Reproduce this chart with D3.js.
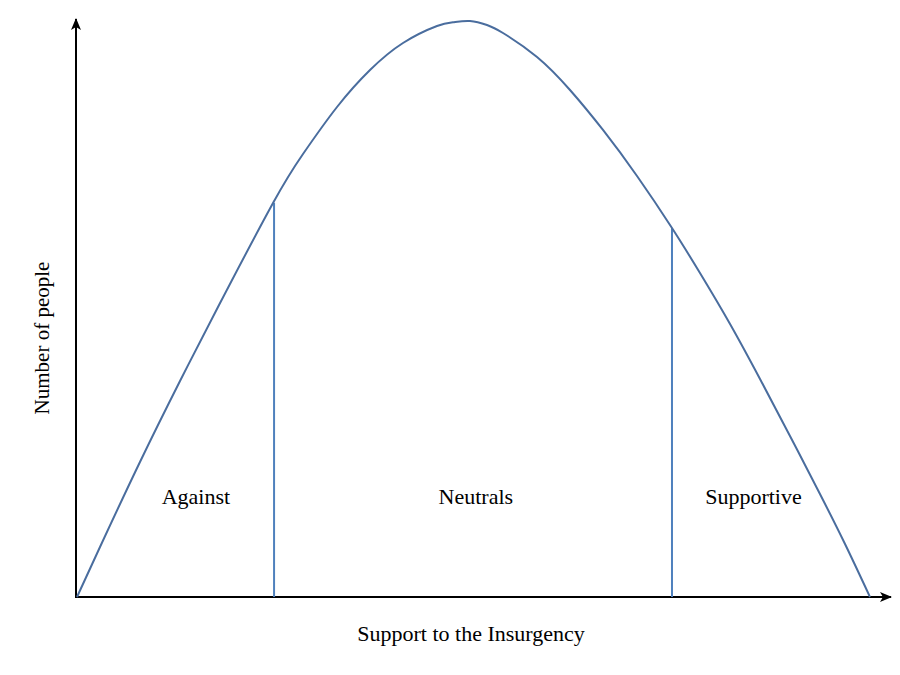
<!DOCTYPE html>
<html>
<head>
<meta charset="utf-8">
<script src="https://cdn.jsdelivr.net/npm/d3@7"></script>
<style>
  html, body { margin: 0; padding: 0; background: #fff; }
  text { font-family: "Liberation Serif", "Times New Roman", serif; fill: #000; }
</style>
</head>
<body>
<svg id="chart" width="900" height="675"></svg>
<script>
// ---- data (abstract units: support 0..100, people 0..100) ----
const supportValues = [0, 2.9, 7.94, 12.99, 17.91, 24.72, 28.50, 32.79, 36.95, 41.11, 45.40, 47.41, 49.56, 51.70, 53.72, 58.01, 62.17, 66.33, 70.62, 75.03, 78.56, 82.35, 86.13, 89.91, 93.69, 96.85, 100];
const peopleValues  = [0, 8.68, 23.44, 37.5, 50.69, 68.40, 76.91, 85.07, 91.49, 96.18, 99.13, 99.79, 100, 99.31, 97.92, 93.75, 88.02, 81.08, 73.09, 64.06, 56.25, 47.40, 37.85, 27.95, 17.88, 9.20, 0];
const dividerSupport = [24.85, 75.03];
const dividerPeople  = [68.45, 64.06];
const groupLabels = ["Against", "Neutrals", "Supportive"];
const groupLabelSupport = [15.0, 50.3, 85.3];
const xTitle = "Support to the Insurgency";
const yTitle = "Number of people";

// ---- layout ----
const svg = d3.select("#chart");
const originX = 76, originY = 597;
const x = d3.scaleLinear().domain([0, 100]).range([77, 870]);
const y = d3.scaleLinear().domain([0, 100]).range([originY, 21]);

const defs = svg.append("defs");
defs.append("marker")
  .attr("id", "arrow")
  .attr("viewBox", "0 -6 12 12")
  .attr("refX", 11).attr("refY", 0)
  .attr("markerWidth", 12).attr("markerHeight", 12)
  .attr("markerUnits", "userSpaceOnUse")
  .attr("orient", "auto")
  .append("path")
  .attr("d", "M0,-5 L12,0 L0,5 L3,0 Z")
  .attr("fill", "#000");

// axes
svg.append("line")
  .attr("x1", originX).attr("y1", originY)
  .attr("x2", originX).attr("y2", 19)
  .attr("stroke", "#000").attr("stroke-width", 2)
  .attr("marker-end", "url(#arrow)");
svg.append("line")
  .attr("x1", originX - 1).attr("y1", originY)
  .attr("x2", 891).attr("y2", originY)
  .attr("stroke", "#000").attr("stroke-width", 2)
  .attr("marker-end", "url(#arrow)");

// dividers
const dividers = dividerSupport.map((s, i) => ({ s, p: dividerPeople[i] }));
svg.selectAll("line.divider").data(dividers).enter().append("line")
  .attr("class", "divider")
  .attr("x1", d => x(d.s)).attr("x2", d => x(d.s))
  .attr("y1", y(0)).attr("y2", d => y(d.p))
  .attr("stroke", "#4f81bd").attr("stroke-width", 2);

// curve
const pts = supportValues.map((s, i) => [s, peopleValues[i]]);
const line = d3.line().x(d => x(d[0])).y(d => y(d[1])).curve(d3.curveNatural);
svg.append("path")
  .datum(pts)
  .attr("d", line)
  .attr("fill", "none")
  .attr("stroke", "#4a6d9e")
  .attr("stroke-width", 2);

// group labels
svg.selectAll("text.group").data(groupLabels).enter().append("text")
  .attr("class", "group")
  .attr("x", (d, i) => x(groupLabelSupport[i]))
  .attr("y", 504)
  .attr("text-anchor", "middle")
  .attr("font-size", 22)
  .text(d => d);

// axis titles
svg.append("text")
  .attr("x", 471).attr("y", 641)
  .attr("text-anchor", "middle")
  .attr("font-size", 22)
  .text(xTitle);
svg.append("text")
  .attr("transform", "translate(49,338) rotate(-90)")
  .attr("text-anchor", "middle")
  .attr("font-size", 21)
  .text(yTitle);
</script>
</body>
</html>
